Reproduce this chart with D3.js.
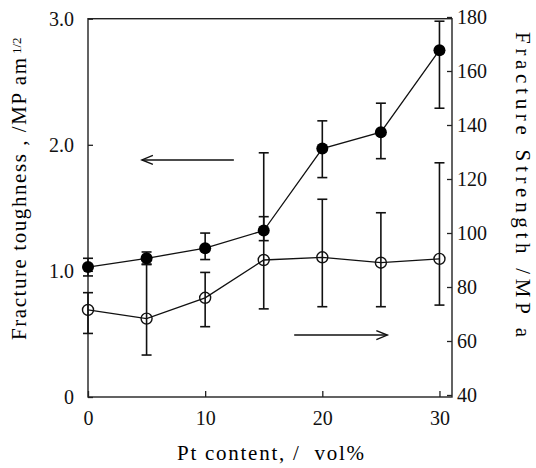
<!DOCTYPE html>
<html>
<head>
<meta charset="utf-8">
<script src="https://cdn.jsdelivr.net/npm/d3@7/dist/d3.min.js"></script>
<style>
  body { margin: 0; background: #fff; }
</style>
</head>
<body>
<div id="chart"></div>
<script>
// data
var ptContent   = [0, 5, 10, 15, 20, 25, 30];
var toughness   = [1.03, 1.10, 1.18, 1.32, 1.97, 2.10, 2.75];
var toughLo     = [0.96, 1.05, 1.09, 1.24, 1.74, 1.89, 2.29];
var toughHi     = [1.10, 1.15, 1.30, 1.43, 2.19, 2.33, 2.98];
var strength    = [71.5, 68.3, 76.0, 90.0, 91.0, 89.0, 90.4];
var strengthLo  = [62.8, 54.8, 65.3, 71.9, 72.7, 72.7, 73.3];
var strengthHi  = [77.9, 88.5, 85.4, 129.7, 112.5, 107.5, 126.0];

var xTicks     = [0, 10, 20, 30];
var leftTicks  = [0, 1, 2, 3];
var rightTicks = [40, 60, 80, 100, 120, 140, 160, 180];

var W = 536, H = 468;
var plot = {left: 88, right: 452, top: 18.7, bottom: 397};
var serif = "'Liberation Serif', 'Times New Roman', serif";

var x = d3.scaleLinear().domain([0, 31.07]).range([plot.left, plot.right]);
var yL = d3.scaleLinear().domain([0, 3]).range([plot.bottom, plot.top]);
var yR = d3.scaleLinear().domain([40, 180]).range([395, 17]);

var svg = d3.select("#chart").append("svg")
    .attr("width", W)
    .attr("height", H)
    .style("background", "#fff");

// frame
svg.append("rect")
    .attr("x", plot.left).attr("y", plot.top)
    .attr("width", plot.right - plot.left)
    .attr("height", plot.bottom - plot.top)
    .attr("fill", "none").attr("stroke", "#222").attr("stroke-width", 1.4);

// axes
var gx = svg.append("g")
    .attr("transform", "translate(0," + plot.bottom + ")")
    .call(d3.axisBottom(x).tickValues(xTicks).tickSize(-6).tickPadding(14)
      .tickFormat(d3.format("d")));

var gl = svg.append("g")
    .attr("transform", "translate(" + plot.left + ",0)")
    .call(d3.axisLeft(yL).tickValues(leftTicks).tickSize(-5).tickPadding(14)
      .tickFormat(function(d) { return d === 0 ? "0" : d3.format(".1f")(d); }));

var gr = svg.append("g")
    .attr("transform", "translate(" + plot.right + ",0)")
    .call(d3.axisRight(yR).tickValues(rightTicks).tickSize(-5).tickPadding(5)
      .tickFormat(d3.format("d")));

[gx, gl, gr].forEach(function(g) {
  g.attr("font-family", serif).attr("font-size", 20);
  g.select(".domain").remove();
  g.selectAll(".tick line").attr("stroke", "#222").attr("stroke-width", 1.3);
  g.selectAll(".tick text").attr("fill", "#111");
});

// series
var pts = ptContent.map(function(p, i) {
  return {x: p, t: toughness[i], tlo: toughLo[i], thi: toughHi[i],
          s: strength[i], slo: strengthLo[i], shi: strengthHi[i]};
});

var lineT = d3.line().x(function(d) { return x(d.x); }).y(function(d) { return yL(d.t); });
var lineS = d3.line().x(function(d) { return x(d.x); }).y(function(d) { return yR(d.s); });

svg.append("path").datum(pts).attr("d", lineS)
    .attr("fill", "none").attr("stroke", "#111").attr("stroke-width", 1.3);
svg.append("path").datum(pts).attr("d", lineT)
    .attr("fill", "none").attr("stroke", "#111").attr("stroke-width", 1.3);

function errorBars(lo, hi) {
  var g = svg.append("g").attr("stroke", "#111").attr("stroke-width", 1.6);
  pts.forEach(function(d) {
    var cx = x(d.x), y0 = lo(d), y1 = hi(d);
    g.append("line").attr("x1", cx).attr("x2", cx).attr("y1", y0).attr("y2", y1);
    g.append("line").attr("x1", cx - 5).attr("x2", cx + 5).attr("y1", y0).attr("y2", y0);
    g.append("line").attr("x1", cx - 5).attr("x2", cx + 5).attr("y1", y1).attr("y2", y1);
  });
}
errorBars(function(d) { return yR(d.slo); }, function(d) { return yR(d.shi); });
errorBars(function(d) { return yL(d.tlo); }, function(d) { return yL(d.thi); });

svg.append("g").selectAll("circle").data(pts).enter().append("circle")
    .attr("cx", function(d) { return x(d.x); })
    .attr("cy", function(d) { return yR(d.s); })
    .attr("r", 5.5)
    .attr("fill", "none").attr("stroke", "#111").attr("stroke-width", 1.4);

svg.append("g").selectAll("circle").data(pts).enter().append("circle")
    .attr("cx", function(d) { return x(d.x); })
    .attr("cy", function(d) { return yL(d.t); })
    .attr("r", 6)
    .attr("fill", "#000");

// arrows pointing at the axis each series uses
function arrow(x0, x1, yPix, dir) {
  var g = svg.append("g").attr("stroke", "#111").attr("stroke-width", 1.4).attr("fill", "none");
  g.append("line").attr("x1", x0).attr("x2", x1).attr("y1", yPix).attr("y2", yPix);
  var tip = dir < 0 ? x0 : x1;
  g.append("path")
    .attr("d", "M" + (tip - dir * 11) + "," + (yPix - 4.5) + "L" + tip + "," + yPix +
               "L" + (tip - dir * 11) + "," + (yPix + 4.5));
}
arrow(x(4.6), x(12.45), yL(1.88), -1);
arrow(x(17.6), x(25.55), yR(62.2), 1);

// axis titles
svg.append("text")
    .attr("x", 177).attr("y", 460)
    .attr("font-family", serif)
    .attr("font-size", 21)
    .style("white-space", "pre")
    .attr("textLength", 187)
    .text("Pt content, /  vol%");

svg.append("text")
    .attr("transform", "translate(26,340) rotate(-90)")
    .attr("font-family", serif)
    .attr("font-size", 21)
    .style("white-space", "pre")
    .attr("textLength", 282)
    .text("Fracture toughness , /MP am");

svg.append("text")
    .attr("transform", "translate(21,54) rotate(-90)")
    .attr("font-family", serif)
    .attr("font-size", 13)
    .text("1/2");

svg.append("text")
    .attr("transform", "translate(516,32) rotate(90)")
    .attr("font-family", serif)
    .attr("font-size", 21)
    .attr("textLength", 305)
    .text("Fracture Strength /MP a");
</script>
</body>
</html>
